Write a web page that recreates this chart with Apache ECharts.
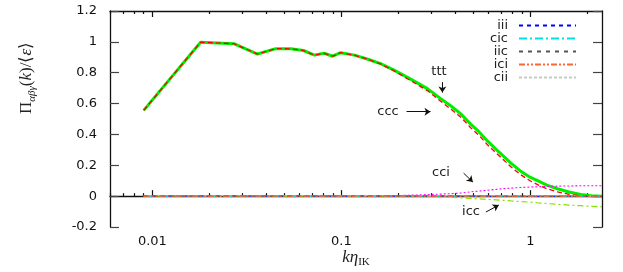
<!DOCTYPE html>
<html>
<head>
<meta charset="utf-8">
<script src="https://cdn.jsdelivr.net/npm/echarts@6/dist/echarts.min.js"></script>
<style>
  html, body { margin: 0; padding: 0; background: #fff; }
  #chart { width: 623px; height: 272px; }
</style>
</head>
<body>
<div id="chart"></div>
<script>
// k * eta_IK sample points
var kEta = [0.009, 0.018, 0.027, 0.036, 0.045, 0.054, 0.063, 0.072, 0.081, 0.09,
    0.099, 0.117, 0.137, 0.161, 0.19, 0.23, 0.285, 0.335, 0.38, 0.428,
    0.483, 0.535, 0.592, 0.66, 0.724, 0.788, 0.88, 1.0, 1.09, 1.22,
    1.39, 1.6, 1.845, 2.1, 2.39];

var ttt = [0.556, 0.998, 0.988, 0.921, 0.956, 0.955, 0.944, 0.914, 0.926, 0.907,
    0.930, 0.914, 0.889, 0.859, 0.817, 0.762, 0.697, 0.632, 0.584, 0.533,
    0.467, 0.416, 0.358, 0.302, 0.256, 0.214, 0.165, 0.121, 0.100, 0.071,
    0.048, 0.027, 0.011, 0.003, 0.0];
var ccc = [0.556, 0.998, 0.988, 0.921, 0.956, 0.955, 0.944, 0.914, 0.926, 0.907,
    0.930, 0.914, 0.888, 0.857, 0.812, 0.752, 0.684, 0.615, 0.563, 0.512,
    0.443, 0.393, 0.333, 0.278, 0.233, 0.190, 0.142, 0.098, 0.075, 0.048,
    0.028, 0.012, 0.002, -0.002, 0.0];
var cci = [0, 0, 0, 0, 0, 0, 0, 0, 0, 0,
    0, 0, 0.001, 0.001, 0.003, 0.006, 0.010, 0.013, 0.016, 0.020,
    0.028, 0.033, 0.038, 0.044, 0.049, 0.052, 0.056, 0.059, 0.061, 0.063,
    0.065, 0.066, 0.067, 0.067, 0.067];
var icc = [0, 0, 0, 0, 0, 0, 0, 0, 0, 0,
    0, 0, 0, 0, 0, -0.001, -0.002, -0.005, -0.008, -0.011,
    -0.015, -0.018, -0.021, -0.024, -0.027, -0.031, -0.035, -0.039, -0.043, -0.048,
    -0.053, -0.058, -0.062, -0.066, -0.069];
var iii = [0, 0, 0, 0, 0, 0, 0, 0, 0, 0,
    0, 0, 0, 0, 0, 0, 0, 0, 0, 0,
    0, 0, -0.001, -0.001, -0.001, -0.002, -0.002, -0.002, -0.002, -0.002,
    -0.002, -0.002, -0.001, -0.001, -0.001];
var cic = [0, 0, 0, 0, 0, 0, 0, 0, 0, 0,
    0, 0, 0, 0, 0, 0, 0, 0, 0, 0.001,
    0.001, 0.001, 0.001, 0.001, 0.001, 0.001, 0.001, 0.001, 0.001, 0.001,
    0.001, 0.001, 0.001, 0, 0];
var iic = [0, 0, 0, 0, 0, 0, 0, 0, 0, 0,
    0, 0, 0, 0, 0, 0, 0, 0, 0, 0,
    0, 0, 0, -0.001, -0.001, -0.001, -0.001, -0.001, -0.001, -0.001,
    -0.001, 0, 0, 0, 0];
var ici = [0, 0, 0, 0, 0, 0, 0, 0, 0, 0,
    0, 0, 0, 0, 0, 0, 0, 0, 0, 0,
    0, 0, 0, 0, 0, 0, 0.001, 0.001, 0.001, 0.001,
    0.001, 0.001, 0, 0, 0];
var cii = [0, 0, 0, 0, 0, 0, 0, 0, 0, 0,
    0, 0, 0, 0, 0, 0, 0, 0, 0.001, 0.001,
    0.001, 0.002, 0.002, 0.002, 0.002, 0.002, 0.002, 0.002, 0.002, 0.001,
    0.001, 0.001, 0.001, 0, 0];

var xRange = [0.00597, 2.39];
var majorTicks = [0.01, 0.1, 1];
var minorTicks = [0.006, 0.007, 0.008, 0.009,
    0.02, 0.03, 0.04, 0.05, 0.06, 0.07, 0.08, 0.09,
    0.2, 0.3, 0.4, 0.5, 0.6, 0.7, 0.8, 0.9, 2];

// annotation arrows [from, to] in data coords
var arrows = [
    [[0.342, 0.739], [0.342, 0.671]],   // ttt
    [[0.221, 0.547], [0.296, 0.547]],   // ccc
    [[0.443, 0.149], [0.496, 0.091]],   // cci
    [[0.581, -0.103], [0.68, -0.058]]   // icc
];

function pairs(ys) {
    return kEta.map(function (k, i) { return [k, ys[i]]; });
}

var chart = echarts.init(document.getElementById('chart'), null, { renderer: 'canvas' });

var lineColor = '#111';
var sans = 'DejaVu Sans';

function xAxisCfg(pos, ticks, len, showLine, showLabel) {
    return {
        type: 'log',
        position: pos,
        min: xRange[0],
        max: xRange[1],
        axisLine: { show: showLine, lineStyle: { color: lineColor, width: 1.3 } },
        axisTick: { show: true, inside: true, length: len, customValues: ticks,
            lineStyle: { color: lineColor, width: 1.2 } },
        axisLabel: { show: showLabel, customValues: ticks, margin: 8,
            fontFamily: sans, fontSize: 13, color: lineColor,
            formatter: function (v) { return String(parseFloat(Number(v).toPrecision(3))); } },
        splitLine: { show: false },
        minorTick: { show: false }
    };
}

function yAxisCfg(pos, showLabel) {
    return {
        type: 'value',
        position: pos,
        min: -0.2,
        max: 1.2,
        interval: 0.2,
        axisLine: { show: true, lineStyle: { color: lineColor, width: 1.3 } },
        axisTick: { show: true, inside: true, length: 9, lineStyle: { color: '#444', width: 1.2 } },
        axisLabel: { show: showLabel, margin: 13, fontFamily: sans, fontSize: 13, color: lineColor },
        splitLine: { show: false }
    };
}

function lineSeries(name, ys, color, width, type, z) {
    return {
        name: name,
        type: 'line',
        xAxisIndex: 0,
        yAxisIndex: 0,
        data: pairs(ys),
        symbol: 'none',
        showSymbol: false,
        smooth: false,
        z: z,
        lineStyle: { color: color, width: width, type: type },
        itemStyle: { color: color }
    };
}

var tttSeries = lineSeries('ttt', ttt, '#00ee00', 3, 'solid', 2);
tttSeries.markLine = {
    silent: true,
    symbol: ['none', 'arrow'],
    symbolSize: 6,
    label: { show: false },
    lineStyle: { color: '#111', width: 1, type: 'solid' },
    data: arrows.map(function (a) {
        return [{ coord: a[0] }, { coord: a[1] }];
    })
};

var option = {
    animation: false,
    backgroundColor: '#fff',
    grid: { left: 110, right: 21, top: 11, bottom: 45, containLabel: false },
    xAxis: [
        xAxisCfg('bottom', majorTicks, 6, true, true),
        xAxisCfg('bottom', minorTicks, 3, false, false),
        xAxisCfg('top', majorTicks, 6, true, false),
        xAxisCfg('top', minorTicks, 3, false, false)
    ],
    yAxis: [
        yAxisCfg('left', true),
        yAxisCfg('right', false)
    ],
    legend: {
        data: ['iii', 'cic', 'iic', 'ici', 'cii'],
        orient: 'vertical',
        align: 'right',
        right: 41,
        top: 14,
        itemWidth: 57,
        itemHeight: 8,
        itemGap: 0,
        itemStyle: { opacity: 0 },
        textStyle: { fontFamily: sans, fontSize: 13, color: '#222', lineHeight: 11,
            padding: [0, 6, 0, 0] }
    },
    series: [
        tttSeries,
        lineSeries('ccc', ccc, '#ff0000', 1.3, [5, 3], 3),
        lineSeries('cci', cci, '#ff00ff', 1.1, [2, 2], 3),
        lineSeries('cii', cii, '#c8c8c8', 1.2, [3, 2], 3),
        lineSeries('icc', icc, '#88e000', 1.2, [6, 3, 2, 3], 4),
        lineSeries('iii', iii, '#0000ff', 1.3, [4, 4], 4),
        lineSeries('cic', cic, '#00e0e8', 1.3, [8, 3, 2, 3], 4),
        lineSeries('iic', iic, '#555555', 1.3, [4, 5], 4),
        lineSeries('ici', ici, '#ff6633', 1.3, [6, 2, 2, 2, 2, 2], 4)
    ],
    graphic: [
        {
            type: 'text', x: 27, y: 78, rotation: Math.PI / 2,
            style: {
                text: '{n|Π}{s|αβγ}{n|(}{i|k}{n|)/⟨}{i|ε}{n|⟩}',
                align: 'center', verticalAlign: 'middle',
                rich: {
                    n: { fontFamily: 'Liberation Serif', fontSize: 17, lineHeight: 22, fill: '#222' },
                    i: { fontFamily: 'Liberation Serif', fontStyle: 'italic', fontSize: 17, lineHeight: 22, fill: '#222' },
                    s: { fontFamily: 'Liberation Serif', fontStyle: 'italic', fontSize: 11, lineHeight: 11,
                        verticalAlign: 'bottom', fill: '#222' }
                }
            }
        },
        {
            type: 'text', x: 356, y: 258,
            style: {
                text: '{i|kη}{s|IK}',
                align: 'center', verticalAlign: 'middle',
                rich: {
                    i: { fontFamily: 'Liberation Serif', fontStyle: 'italic', fontSize: 17, lineHeight: 20, fill: '#222' },
                    s: { fontFamily: 'Liberation Serif', fontSize: 11, lineHeight: 10,
                        verticalAlign: 'bottom', fill: '#222' }
                }
            }
        },
        { type: 'text', x: 439, y: 72, style: { text: 'ttt', font: '13px "DejaVu Sans"', fill: '#222', align: 'center', verticalAlign: 'middle' } },
        { type: 'text', x: 388, y: 112, style: { text: 'ccc', font: '13px "DejaVu Sans"', fill: '#222', align: 'center', verticalAlign: 'middle' } },
        { type: 'text', x: 441, y: 173, style: { text: 'cci', font: '13px "DejaVu Sans"', fill: '#222', align: 'center', verticalAlign: 'middle' } },
        { type: 'text', x: 471, y: 212, style: { text: 'icc', font: '13px "DejaVu Sans"', fill: '#222', align: 'center', verticalAlign: 'middle' } }
    ]
};

chart.setOption(option);
</script>
</body>
</html>
